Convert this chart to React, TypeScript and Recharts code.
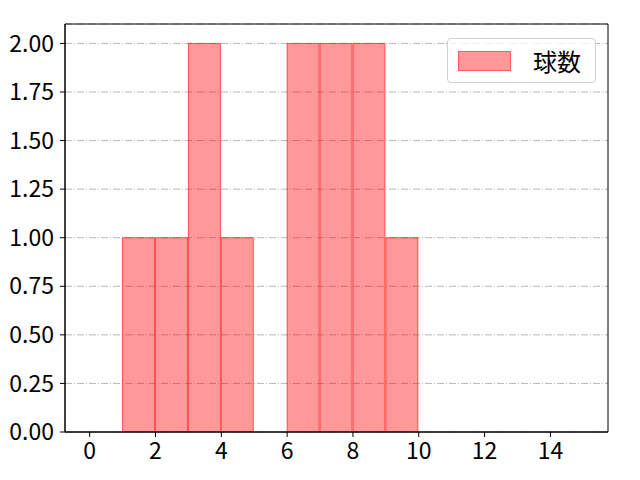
import React from "react";
import {
  BarChart,
  Bar,
  XAxis,
  YAxis,
  CartesianGrid,
  ReferenceArea,
} from "recharts";

const binStarts = [1, 2, 3, 4, 6, 7, 8, 9];
const counts = [1, 1, 2, 1, 2, 2, 2, 1];
const xTicks = [0, 2, 4, 6, 8, 10, 12, 14];
const yTicks = [0, 0.25, 0.5, 0.75, 1.0, 1.25, 1.5, 1.75, 2.0];
const seriesName = "球数";

const data = binStarts.map((s, i) => ({ x: s + 0.5, y: counts[i] }));

const X_DOMAIN: [number, number] = [-0.75, 15.75];
const Y_DOMAIN: [number, number] = [0, 2.1];

const FONT = "'Noto Sans CJK JP', 'Noto Sans', sans-serif";

const LegendBox = () => (
  <div
    style={{
      position: "absolute",
      left: 447,
      top: 38,
      boxSizing: "border-box",
      width: 149,
      height: 45,
      border: "1px solid #d0d0d0",
      borderRadius: 4,
      background: "rgba(255,255,255,0.8)",
      display: "flex",
      alignItems: "center",
      fontFamily: FONT,
      fontSize: 24,
      color: "#000",
    }}
  >
    <div
      style={{
        marginLeft: 10,
        width: 53,
        height: 20,
        boxSizing: "border-box",
        background: "rgba(255,0,0,0.4)",
        border: "1px solid rgba(255,0,0,0.4)",
      }}
    />
    <span style={{ marginLeft: 22, lineHeight: 1 }}>{seriesName}</span>
  </div>
);

export default function App() {
  return (
    <div style={{ position: "absolute", left: 0, top: 0, width: 640, height: 480, background: "#fff" }}>
      <BarChart
        width={640}
        height={480}
        data={data}
        margin={{ top: 24, right: 32, bottom: 0, left: 0 }}
        barCategoryGap={0}
        barGap={0}
      >
        <CartesianGrid
          horizontal={true}
          vertical={false}
          stroke="#b0b0b0"
          strokeDasharray="7 2 1 2"
          strokeWidth={0.9}
        />
        <XAxis
          dataKey="x"
          type="number"
          domain={X_DOMAIN}
          ticks={xTicks}
          allowDataOverflow
          interval={0}
          height={48}
          tickSize={5}
          tickMargin={6}
          tick={{ fill: "#000", fontSize: 23, fontFamily: FONT }}
          axisLine={{ stroke: "#000", strokeWidth: 1 }}
          tickLine={{ stroke: "#000" }}
        />
        <YAxis
          type="number"
          domain={Y_DOMAIN}
          ticks={yTicks}
          allowDataOverflow
          interval={0}
          width={65}
          tickSize={5}
          tickMargin={6}
          tickFormatter={(v: number) => v.toFixed(2)}
          tick={{ fill: "#000", fontSize: 23, fontFamily: FONT }}
          axisLine={{ stroke: "#000", strokeWidth: 1 }}
          tickLine={{ stroke: "#000" }}
        />
        <Bar
          dataKey="y"
          name={seriesName}
          fill="#ff0000"
          fillOpacity={0.4}
          stroke="#ff0000"
          strokeOpacity={0.6}
          strokeWidth={1}
          barSize={32}
          isAnimationActive={false}
        />
        <ReferenceArea
          x1={X_DOMAIN[0]}
          x2={X_DOMAIN[1]}
          y1={Y_DOMAIN[0]}
          y2={Y_DOMAIN[1]}
          fill="none"
          fillOpacity={0}
          stroke="#000"
          strokeWidth={1}
          ifOverflow="visible"
        />
      </BarChart>
      <LegendBox />
    </div>
  );
}
